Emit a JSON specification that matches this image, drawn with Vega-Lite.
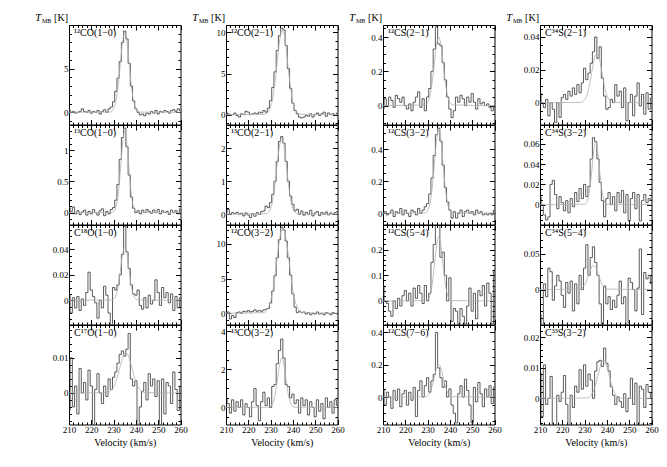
{
"$schema":"https://vega.github.io/schema/vega-lite/v6.json",
"padding":{"left":34,"top":12,"right":5,"bottom":5},
"background":"white",
"columns":4,
"spacing":{"row":0,"column":45},
"bounds":"flush",
"config":{
 "view":{"stroke":"#000","strokeWidth":1},
 "axis":{"domain":false,"grid":false,"ticks":true,"tickColor":"#000","tickSize":-5,"tickWidth":1,"labelFont":"Liberation Serif","labelFontSize":9,"labelColor":"#000","labelPadding":6,"labelFlush":false,"labelOverlap":false,"titleFont":"Liberation Serif","titleFontSize":10,"titleFontWeight":"normal","titleColor":"#000","titlePadding":3},
 "line":{"strokeWidth":0.8}
},
"datasets":{
"one":[{"k":1}],
"A1":[{"v":210,"t":0.3},{"v":211,"t":0.0},{"v":212,"t":0.1},{"v":213,"t":-0.1},{"v":214,"t":0.0},{"v":215,"t":0.1},{"v":216,"t":0.4},{"v":217,"t":0.1},{"v":218,"t":0.0},{"v":219,"t":0.2},{"v":220,"t":-0.1},{"v":221,"t":0.1},{"v":222,"t":0.0},{"v":223,"t":0.2},{"v":224,"t":-0.2},{"v":225,"t":0.1},{"v":226,"t":0.3},{"v":227,"t":0.0},{"v":228,"t":0.4},{"v":229,"t":0.6},{"v":230,"t":1.2},{"v":231,"t":2.4},{"v":232,"t":3.9},{"v":233,"t":5.8},{"v":234,"t":8.0},{"v":235,"t":9.3},{"v":236,"t":8.4},{"v":237,"t":5.6},{"v":238,"t":3.0},{"v":239,"t":1.3},{"v":240,"t":0.4},{"v":241,"t":0.0},{"v":242,"t":-0.3},{"v":243,"t":-0.2},{"v":244,"t":-0.4},{"v":245,"t":-0.1},{"v":246,"t":-0.2},{"v":247,"t":0.1},{"v":248,"t":-0.1},{"v":249,"t":0.2},{"v":250,"t":-0.2},{"v":251,"t":0.1},{"v":252,"t":0.0},{"v":253,"t":0.2},{"v":254,"t":0.1},{"v":255,"t":-0.1},{"v":256,"t":0.2},{"v":257,"t":0.3},{"v":258,"t":0.1},{"v":259,"t":0.4},{"v":260,"t":0.2}],
"A1f":[{"v":210,"t":0},{"v":228,"t":0.02},{"v":229,"t":0.1},{"v":230,"t":0.4},{"v":231,"t":1.23},{"v":232,"t":2.95},{"v":233,"t":5.52},{"v":234,"t":8.03},{"v":235,"t":9.1},{"v":236,"t":8.03},{"v":237,"t":5.52},{"v":238,"t":2.95},{"v":239,"t":1.23},{"v":240,"t":0.4},{"v":241,"t":0.1},{"v":242,"t":0.02},{"v":260,"t":0}],
"A2":[{"v":210,"t":0.08},{"v":211,"t":0.02},{"v":212,"t":0.09},{"v":213,"t":-0.02},{"v":214,"t":0.03},{"v":215,"t":-0.03},{"v":216,"t":0.01},{"v":217,"t":0.04},{"v":218,"t":-0.04},{"v":219,"t":0.02},{"v":220,"t":-0.02},{"v":221,"t":0.05},{"v":222,"t":0.0},{"v":223,"t":-0.04},{"v":224,"t":0.03},{"v":225,"t":0.06},{"v":226,"t":-0.05},{"v":227,"t":0.02},{"v":228,"t":-0.02},{"v":229,"t":0.05},{"v":230,"t":0.08},{"v":231,"t":0.2},{"v":232,"t":0.45},{"v":233,"t":0.85},{"v":234,"t":1.2},{"v":235,"t":1.35},{"v":236,"t":1.05},{"v":237,"t":0.6},{"v":238,"t":0.25},{"v":239,"t":0.07},{"v":240,"t":0.0},{"v":241,"t":0.03},{"v":242,"t":-0.02},{"v":243,"t":0.04},{"v":244,"t":0.0},{"v":245,"t":0.05},{"v":246,"t":0.02},{"v":247,"t":-0.01},{"v":248,"t":0.04},{"v":249,"t":0.0},{"v":250,"t":0.05},{"v":251,"t":-0.02},{"v":252,"t":0.03},{"v":253,"t":0.0},{"v":254,"t":0.02},{"v":255,"t":-0.03},{"v":256,"t":0.04},{"v":257,"t":0.0},{"v":258,"t":0.03},{"v":259,"t":-0.02},{"v":260,"t":0.06}],
"A2f":[{"v":210,"t":0},{"v":229,"t":0.003},{"v":230,"t":0.017},{"v":231,"t":0.08},{"v":232,"t":0.27},{"v":233,"t":0.65},{"v":234,"t":1.09},{"v":235,"t":1.3},{"v":236,"t":1.09},{"v":237,"t":0.65},{"v":238,"t":0.27},{"v":239,"t":0.08},{"v":240,"t":0.017},{"v":241,"t":0.003},{"v":260,"t":0}],
"A3":[{"v":210,"t":0.005},{"v":211,"t":-0.01},{"v":212,"t":0.002},{"v":213,"t":-0.006},{"v":214,"t":0.003},{"v":215,"t":-0.008},{"v":216,"t":0.001},{"v":217,"t":-0.004},{"v":218,"t":0.006},{"v":219,"t":0.022},{"v":220,"t":0.008},{"v":221,"t":0.003},{"v":222,"t":-0.002},{"v":223,"t":-0.014},{"v":224,"t":0.0},{"v":225,"t":-0.006},{"v":226,"t":0.011},{"v":227,"t":0.004},{"v":228,"t":-0.01},{"v":229,"t":-0.019},{"v":230,"t":0.01},{"v":231,"t":0.008},{"v":232,"t":0.012},{"v":233,"t":0.02},{"v":234,"t":0.036},{"v":235,"t":0.058},{"v":236,"t":0.038},{"v":237,"t":0.025},{"v":238,"t":0.012},{"v":239,"t":0.005},{"v":240,"t":0.004},{"v":241,"t":0.008},{"v":242,"t":-0.004},{"v":243,"t":-0.007},{"v":244,"t":0.002},{"v":245,"t":-0.006},{"v":246,"t":0.004},{"v":247,"t":-0.003},{"v":248,"t":0.0},{"v":249,"t":0.016},{"v":250,"t":0.006},{"v":251,"t":-0.004},{"v":252,"t":0.01},{"v":253,"t":0.002},{"v":254,"t":0.006},{"v":255,"t":-0.002},{"v":256,"t":0.005},{"v":257,"t":-0.008},{"v":258,"t":0.003},{"v":259,"t":-0.006},{"v":260,"t":0.002}],
"A3f":[{"v":210,"t":0},{"v":229,"t":0.0002},{"v":230,"t":0.0009},{"v":231,"t":0.0036},{"v":232,"t":0.0105},{"v":233,"t":0.0226},{"v":234,"t":0.036},{"v":235,"t":0.042},{"v":236,"t":0.036},{"v":237,"t":0.0226},{"v":238,"t":0.0105},{"v":239,"t":0.0036},{"v":240,"t":0.0009},{"v":241,"t":0.0002},{"v":260,"t":0}],
"A4":[{"v":210,"t":-0.005},{"v":211,"t":0.01},{"v":212,"t":-0.004},{"v":213,"t":0.002},{"v":214,"t":-0.006},{"v":215,"t":0.007},{"v":216,"t":0.0},{"v":217,"t":0.003},{"v":218,"t":-0.002},{"v":219,"t":0.0065},{"v":220,"t":0.002},{"v":221,"t":-0.009},{"v":222,"t":0.001},{"v":223,"t":0.0055},{"v":224,"t":0.0},{"v":225,"t":-0.003},{"v":226,"t":0.002},{"v":227,"t":-0.001},{"v":228,"t":0.004},{"v":229,"t":0.001},{"v":230,"t":0.0045},{"v":231,"t":0.006},{"v":232,"t":0.0085},{"v":233,"t":0.011},{"v":234,"t":0.012},{"v":235,"t":0.0105},{"v":236,"t":0.0125},{"v":237,"t":0.017},{"v":238,"t":0.004},{"v":239,"t":0.002},{"v":240,"t":0.0035},{"v":241,"t":-0.009},{"v":242,"t":-0.004},{"v":243,"t":0.0005},{"v":244,"t":0.003},{"v":245,"t":-0.002},{"v":246,"t":0.0055},{"v":247,"t":0.002},{"v":248,"t":0.004},{"v":249,"t":-0.001},{"v":250,"t":0.0035},{"v":251,"t":-0.009},{"v":252,"t":0.004},{"v":253,"t":-0.006},{"v":254,"t":0.003},{"v":255,"t":0.002},{"v":256,"t":-0.003},{"v":257,"t":0.006},{"v":258,"t":0.001},{"v":259,"t":-0.005},{"v":260,"t":0.002}],
"A4f":[{"v":210,"t":0},{"v":227,"t":0.0001},{"v":228,"t":0.0003},{"v":229,"t":0.0008},{"v":230,"t":0.0017},{"v":231,"t":0.0032},{"v":232,"t":0.0053},{"v":233,"t":0.0077},{"v":234,"t":0.01},{"v":235,"t":0.0113},{"v":236,"t":0.0113},{"v":237,"t":0.01},{"v":238,"t":0.0077},{"v":239,"t":0.0053},{"v":240,"t":0.0032},{"v":241,"t":0.0017},{"v":242,"t":0.0008},{"v":243,"t":0.0003},{"v":244,"t":0.0001},{"v":260,"t":0}],
"B1":[{"v":210,"t":0.3},{"v":211,"t":0.1},{"v":212,"t":-0.1},{"v":213,"t":0.0},{"v":214,"t":0.2},{"v":215,"t":-0.1},{"v":216,"t":-0.3},{"v":217,"t":0.1},{"v":218,"t":0.0},{"v":219,"t":0.4},{"v":220,"t":0.3},{"v":221,"t":0.0},{"v":222,"t":0.1},{"v":223,"t":0.2},{"v":224,"t":0.1},{"v":225,"t":0.3},{"v":226,"t":0.2},{"v":227,"t":0.5},{"v":228,"t":0.3},{"v":229,"t":0.8},{"v":230,"t":1.7},{"v":231,"t":3.3},{"v":232,"t":5.2},{"v":233,"t":7.8},{"v":234,"t":9.6},{"v":235,"t":10.5},{"v":236,"t":10.3},{"v":237,"t":8.4},{"v":238,"t":5.6},{"v":239,"t":3.2},{"v":240,"t":1.4},{"v":241,"t":0.5},{"v":242,"t":0.1},{"v":243,"t":-0.3},{"v":244,"t":-0.4},{"v":245,"t":-0.3},{"v":246,"t":-0.1},{"v":247,"t":-0.2},{"v":248,"t":0.1},{"v":249,"t":-0.3},{"v":250,"t":0.0},{"v":251,"t":0.2},{"v":252,"t":-0.1},{"v":253,"t":0.1},{"v":254,"t":0.3},{"v":255,"t":-0.2},{"v":256,"t":0.2},{"v":257,"t":0.0},{"v":258,"t":0.1},{"v":259,"t":-0.1},{"v":260,"t":0.2}],
"B1f":[{"v":210,"t":0},{"v":227,"t":0.03},{"v":228,"t":0.1},{"v":229,"t":0.33},{"v":230,"t":0.9},{"v":231,"t":2.07},{"v":232,"t":4.0},{"v":233,"t":6.5},{"v":234,"t":8.9},{"v":235,"t":10.2},{"v":236,"t":9.87},{"v":237,"t":8.0},{"v":238,"t":5.47},{"v":239,"t":3.14},{"v":240,"t":1.51},{"v":241,"t":0.61},{"v":242,"t":0.21},{"v":243,"t":0.06},{"v":260,"t":0}],
"B2":[{"v":210,"t":0.05},{"v":211,"t":0.15},{"v":212,"t":0.0},{"v":213,"t":0.05},{"v":214,"t":0.02},{"v":215,"t":0.06},{"v":216,"t":0.0},{"v":217,"t":0.03},{"v":218,"t":-0.05},{"v":219,"t":0.04},{"v":220,"t":-0.02},{"v":221,"t":-0.1},{"v":222,"t":0.02},{"v":223,"t":-0.06},{"v":224,"t":0.05},{"v":225,"t":0.0},{"v":226,"t":0.08},{"v":227,"t":0.1},{"v":228,"t":0.25},{"v":229,"t":0.2},{"v":230,"t":0.35},{"v":231,"t":0.6},{"v":232,"t":1.0},{"v":233,"t":1.6},{"v":234,"t":2.2},{"v":235,"t":2.35},{"v":236,"t":2.15},{"v":237,"t":1.6},{"v":238,"t":1.0},{"v":239,"t":0.55},{"v":240,"t":0.3},{"v":241,"t":0.1},{"v":242,"t":0.15},{"v":243,"t":0.0},{"v":244,"t":0.1},{"v":245,"t":-0.03},{"v":246,"t":0.06},{"v":247,"t":0.0},{"v":248,"t":0.12},{"v":249,"t":-0.05},{"v":250,"t":0.04},{"v":251,"t":0.08},{"v":252,"t":-0.04},{"v":253,"t":0.05},{"v":254,"t":0.0},{"v":255,"t":0.07},{"v":256,"t":-0.02},{"v":257,"t":0.04},{"v":258,"t":0.0},{"v":259,"t":0.05},{"v":260,"t":0.08}],
"B2f":[{"v":210,"t":0},{"v":228,"t":0.015},{"v":229,"t":0.056},{"v":230,"t":0.17},{"v":231,"t":0.44},{"v":232,"t":0.91},{"v":233,"t":1.52},{"v":234,"t":2.07},{"v":235,"t":2.3},{"v":236,"t":2.07},{"v":237,"t":1.52},{"v":238,"t":0.91},{"v":239,"t":0.44},{"v":240,"t":0.17},{"v":241,"t":0.056},{"v":242,"t":0.015},{"v":260,"t":0}],
"B3":[{"v":210,"t":0.0},{"v":211,"t":0.2},{"v":212,"t":-0.8},{"v":213,"t":-0.3},{"v":214,"t":-0.6},{"v":215,"t":0.1},{"v":216,"t":0.2},{"v":217,"t":0.0},{"v":218,"t":0.3},{"v":219,"t":0.2},{"v":220,"t":0.4},{"v":221,"t":0.2},{"v":222,"t":0.3},{"v":223,"t":0.5},{"v":224,"t":0.3},{"v":225,"t":0.4},{"v":226,"t":0.3},{"v":227,"t":0.5},{"v":228,"t":0.6},{"v":229,"t":0.7},{"v":230,"t":1.5},{"v":231,"t":3.2},{"v":232,"t":5.4},{"v":233,"t":8.0},{"v":234,"t":10.6},{"v":235,"t":12.4},{"v":236,"t":12.0},{"v":237,"t":10.4},{"v":238,"t":8.0},{"v":239,"t":5.5},{"v":240,"t":2.8},{"v":241,"t":0.9},{"v":242,"t":0.1},{"v":243,"t":0.3},{"v":244,"t":0.1},{"v":245,"t":0.2},{"v":246,"t":-0.1},{"v":247,"t":0.1},{"v":248,"t":-0.2},{"v":249,"t":0.0},{"v":250,"t":-0.1},{"v":251,"t":0.2},{"v":252,"t":-0.1},{"v":253,"t":0.0},{"v":254,"t":-0.2},{"v":255,"t":0.1},{"v":256,"t":0.0},{"v":257,"t":-0.2},{"v":258,"t":0.1},{"v":259,"t":0.0},{"v":260,"t":-0.1}],
"B3f":[{"v":210,"t":0},{"v":227,"t":0.12},{"v":228,"t":0.34},{"v":229,"t":0.82},{"v":230,"t":1.77},{"v":231,"t":3.36},{"v":232,"t":5.59},{"v":233,"t":8.19},{"v":234,"t":10.57},{"v":235,"t":12.0},{"v":236,"t":12.0},{"v":237,"t":10.57},{"v":238,"t":8.19},{"v":239,"t":5.59},{"v":240,"t":3.36},{"v":241,"t":1.77},{"v":242,"t":0.82},{"v":243,"t":0.34},{"v":244,"t":0.12},{"v":260,"t":0}],
"B4":[{"v":210,"t":0.5},{"v":211,"t":0.2},{"v":212,"t":-0.3},{"v":213,"t":0.4},{"v":214,"t":-0.2},{"v":215,"t":0.3},{"v":216,"t":0.0},{"v":217,"t":0.4},{"v":218,"t":-0.4},{"v":219,"t":0.2},{"v":220,"t":0.0},{"v":221,"t":-0.5},{"v":222,"t":0.3},{"v":223,"t":1.0},{"v":224,"t":0.1},{"v":225,"t":-0.7},{"v":226,"t":0.3},{"v":227,"t":0.8},{"v":228,"t":0.1},{"v":229,"t":0.5},{"v":230,"t":0.0},{"v":231,"t":1.1},{"v":232,"t":1.2},{"v":233,"t":2.3},{"v":234,"t":3.0},{"v":235,"t":3.6},{"v":236,"t":2.6},{"v":237,"t":1.2},{"v":238,"t":1.1},{"v":239,"t":0.5},{"v":240,"t":0.7},{"v":241,"t":0.2},{"v":242,"t":0.4},{"v":243,"t":-0.3},{"v":244,"t":0.5},{"v":245,"t":0.1},{"v":246,"t":0.4},{"v":247,"t":-0.4},{"v":248,"t":0.3},{"v":249,"t":0.0},{"v":250,"t":-0.5},{"v":251,"t":0.4},{"v":252,"t":-0.2},{"v":253,"t":0.2},{"v":254,"t":-0.6},{"v":255,"t":0.5},{"v":256,"t":0.0},{"v":257,"t":0.3},{"v":258,"t":-0.3},{"v":259,"t":0.4},{"v":260,"t":0.1}],
"B4f":[{"v":210,"t":0},{"v":229,"t":0.01},{"v":230,"t":0.055},{"v":231,"t":0.22},{"v":232,"t":0.65},{"v":233,"t":1.4},{"v":234,"t":2.23},{"v":235,"t":2.6},{"v":236,"t":2.23},{"v":237,"t":1.4},{"v":238,"t":0.65},{"v":239,"t":0.22},{"v":240,"t":0.055},{"v":241,"t":0.01},{"v":260,"t":0}],
"C1":[{"v":210,"t":-0.02},{"v":211,"t":0.04},{"v":212,"t":0.0},{"v":213,"t":0.05},{"v":214,"t":0.03},{"v":215,"t":-0.01},{"v":216,"t":0.06},{"v":217,"t":0.04},{"v":218,"t":0.02},{"v":219,"t":0.05},{"v":220,"t":0.0},{"v":221,"t":-0.02},{"v":222,"t":0.01},{"v":223,"t":-0.03},{"v":224,"t":0.02},{"v":225,"t":0.05},{"v":226,"t":0.08},{"v":227,"t":-0.01},{"v":228,"t":0.04},{"v":229,"t":-0.03},{"v":230,"t":0.05},{"v":231,"t":0.1},{"v":232,"t":0.2},{"v":233,"t":0.33},{"v":234,"t":0.46},{"v":235,"t":0.36},{"v":236,"t":0.35},{"v":237,"t":0.25},{"v":238,"t":0.15},{"v":239,"t":0.05},{"v":240,"t":-0.02},{"v":241,"t":-0.07},{"v":242,"t":-0.03},{"v":243,"t":0.05},{"v":244,"t":0.02},{"v":245,"t":0.06},{"v":246,"t":0.04},{"v":247,"t":0.0},{"v":248,"t":0.05},{"v":249,"t":0.02},{"v":250,"t":0.07},{"v":251,"t":0.02},{"v":252,"t":-0.02},{"v":253,"t":0.04},{"v":254,"t":0.01},{"v":255,"t":0.02},{"v":256,"t":0.0},{"v":257,"t":0.01},{"v":258,"t":-0.01},{"v":259,"t":-0.03},{"v":260,"t":0.0}],
"C1f":[{"v":210,"t":0},{"v":229,"t":0.0044},{"v":230,"t":0.018},{"v":231,"t":0.054},{"v":232,"t":0.13},{"v":233,"t":0.243},{"v":234,"t":0.353},{"v":235,"t":0.4},{"v":236,"t":0.353},{"v":237,"t":0.243},{"v":238,"t":0.13},{"v":239,"t":0.054},{"v":240,"t":0.018},{"v":241,"t":0.0044},{"v":260,"t":0}],
"C2":[{"v":210,"t":0.0},{"v":211,"t":0.01},{"v":212,"t":-0.01},{"v":213,"t":0.0},{"v":214,"t":0.02},{"v":215,"t":-0.02},{"v":216,"t":0.01},{"v":217,"t":0.0},{"v":218,"t":0.03},{"v":219,"t":-0.01},{"v":220,"t":0.02},{"v":221,"t":0.0},{"v":222,"t":-0.02},{"v":223,"t":0.02},{"v":224,"t":0.01},{"v":225,"t":-0.01},{"v":226,"t":0.03},{"v":227,"t":0.0},{"v":228,"t":0.02},{"v":229,"t":0.04},{"v":230,"t":0.06},{"v":231,"t":0.12},{"v":232,"t":0.22},{"v":233,"t":0.36},{"v":234,"t":0.49},{"v":235,"t":0.53},{"v":236,"t":0.45},{"v":237,"t":0.3},{"v":238,"t":0.16},{"v":239,"t":0.07},{"v":240,"t":0.02},{"v":241,"t":-0.03},{"v":242,"t":0.01},{"v":243,"t":-0.03},{"v":244,"t":0.0},{"v":245,"t":0.02},{"v":246,"t":-0.02},{"v":247,"t":0.01},{"v":248,"t":0.02},{"v":249,"t":0.0},{"v":250,"t":0.01},{"v":251,"t":-0.01},{"v":252,"t":0.02},{"v":253,"t":0.0},{"v":254,"t":0.01},{"v":255,"t":-0.01},{"v":256,"t":0.0},{"v":257,"t":-0.01},{"v":258,"t":0.0},{"v":259,"t":-0.01},{"v":260,"t":0.02}],
"C2f":[{"v":210,"t":0},{"v":229,"t":0.0036},{"v":230,"t":0.016},{"v":231,"t":0.057},{"v":232,"t":0.15},{"v":233,"t":0.299},{"v":234,"t":0.453},{"v":235,"t":0.52},{"v":236,"t":0.453},{"v":237,"t":0.299},{"v":238,"t":0.15},{"v":239,"t":0.057},{"v":240,"t":0.016},{"v":241,"t":0.0036},{"v":260,"t":0}],
"C3":[{"v":210,"t":0.06},{"v":211,"t":0.0},{"v":212,"t":-0.01},{"v":213,"t":-0.04},{"v":214,"t":-0.06},{"v":215,"t":0.0},{"v":216,"t":-0.03},{"v":217,"t":0.01},{"v":218,"t":-0.02},{"v":219,"t":0.02},{"v":220,"t":0.04},{"v":221,"t":0.0},{"v":222,"t":0.03},{"v":223,"t":-0.02},{"v":224,"t":0.05},{"v":225,"t":0.01},{"v":226,"t":0.06},{"v":227,"t":0.03},{"v":228,"t":-0.01},{"v":229,"t":0.06},{"v":230,"t":0.0},{"v":231,"t":0.03},{"v":232,"t":0.15},{"v":233,"t":0.22},{"v":234,"t":0.32},{"v":235,"t":0.3},{"v":236,"t":0.17},{"v":237,"t":0.19},{"v":238,"t":0.1},{"v":239,"t":0.0},{"v":240,"t":0.09},{"v":241,"t":-0.08},{"v":242,"t":-0.03},{"v":243,"t":-0.04},{"v":244,"t":-0.09},{"v":245,"t":-0.03},{"v":246,"t":-0.06},{"v":247,"t":-0.09},{"v":248,"t":-0.02},{"v":249,"t":0.05},{"v":250,"t":-0.04},{"v":251,"t":0.03},{"v":252,"t":-0.07},{"v":253,"t":0.04},{"v":254,"t":0.02},{"v":255,"t":0.06},{"v":256,"t":-0.02},{"v":257,"t":0.07},{"v":258,"t":0.03},{"v":259,"t":-0.09},{"v":260,"t":0.12}],
"C3f":[{"v":210,"t":0},{"v":229,"t":0.001},{"v":230,"t":0.005},{"v":231,"t":0.021},{"v":232,"t":0.062},{"v":233,"t":0.135},{"v":234,"t":0.214},{"v":235,"t":0.25},{"v":236,"t":0.214},{"v":237,"t":0.135},{"v":238,"t":0.062},{"v":239,"t":0.021},{"v":240,"t":0.005},{"v":241,"t":0.001},{"v":260,"t":0}],
"C4":[{"v":210,"t":0.05},{"v":211,"t":-0.05},{"v":212,"t":0.03},{"v":213,"t":0.0},{"v":214,"t":-0.07},{"v":215,"t":0.04},{"v":216,"t":-0.02},{"v":217,"t":0.05},{"v":218,"t":-0.06},{"v":219,"t":0.02},{"v":220,"t":0.04},{"v":221,"t":-0.05},{"v":222,"t":0.03},{"v":223,"t":-0.02},{"v":224,"t":0.06},{"v":225,"t":-0.12},{"v":226,"t":0.04},{"v":227,"t":0.1},{"v":228,"t":0.0},{"v":229,"t":0.07},{"v":230,"t":0.12},{"v":231,"t":0.03},{"v":232,"t":0.1},{"v":233,"t":0.14},{"v":234,"t":0.4},{"v":235,"t":0.18},{"v":236,"t":0.12},{"v":237,"t":0.06},{"v":238,"t":0.1},{"v":239,"t":0.0},{"v":240,"t":0.05},{"v":241,"t":-0.05},{"v":242,"t":-0.1},{"v":243,"t":-0.16},{"v":244,"t":0.02},{"v":245,"t":0.07},{"v":246,"t":0.0},{"v":247,"t":0.11},{"v":248,"t":0.04},{"v":249,"t":-0.05},{"v":250,"t":-0.16},{"v":251,"t":0.06},{"v":252,"t":-0.03},{"v":253,"t":0.09},{"v":254,"t":0.02},{"v":255,"t":-0.06},{"v":256,"t":0.05},{"v":257,"t":0.0},{"v":258,"t":0.07},{"v":259,"t":-0.04},{"v":260,"t":0.06}],
"C4f":[{"v":210,"t":0},{"v":229,"t":0.002},{"v":230,"t":0.009},{"v":231,"t":0.027},{"v":232,"t":0.065},{"v":233,"t":0.121},{"v":234,"t":0.177},{"v":235,"t":0.2},{"v":236,"t":0.177},{"v":237,"t":0.121},{"v":238,"t":0.065},{"v":239,"t":0.027},{"v":240,"t":0.009},{"v":241,"t":0.002},{"v":260,"t":0}],
"D1":[{"v":210,"t":0.006},{"v":211,"t":0.0},{"v":212,"t":-0.003},{"v":213,"t":0.002},{"v":214,"t":-0.008},{"v":215,"t":0.0},{"v":216,"t":-0.004},{"v":217,"t":-0.012},{"v":218,"t":0.0},{"v":219,"t":-0.009},{"v":220,"t":0.003},{"v":221,"t":0.005},{"v":222,"t":0.002},{"v":223,"t":0.007},{"v":224,"t":0.004},{"v":225,"t":0.009},{"v":226,"t":0.005},{"v":227,"t":0.011},{"v":228,"t":0.006},{"v":229,"t":0.012},{"v":230,"t":0.021},{"v":231,"t":0.014},{"v":232,"t":0.018},{"v":233,"t":0.024},{"v":234,"t":0.031},{"v":235,"t":0.04},{"v":236,"t":0.027},{"v":237,"t":0.034},{"v":238,"t":0.015},{"v":239,"t":0.004},{"v":240,"t":-0.004},{"v":241,"t":-0.003},{"v":242,"t":0.002},{"v":243,"t":0.0},{"v":244,"t":0.011},{"v":245,"t":0.004},{"v":246,"t":0.007},{"v":247,"t":-0.003},{"v":248,"t":0.009},{"v":249,"t":-0.011},{"v":250,"t":0.0},{"v":251,"t":0.005},{"v":252,"t":-0.008},{"v":253,"t":0.004},{"v":254,"t":0.012},{"v":255,"t":-0.002},{"v":256,"t":0.005},{"v":257,"t":-0.007},{"v":258,"t":0.006},{"v":259,"t":-0.004},{"v":260,"t":0.003}],
"D1f":[{"v":210,"t":0},{"v":228,"t":0.00015},{"v":229,"t":0.0005},{"v":230,"t":0.0017},{"v":231,"t":0.0044},{"v":232,"t":0.0094},{"v":233,"t":0.0166},{"v":234,"t":0.0243},{"v":235,"t":0.0293},{"v":236,"t":0.0293},{"v":237,"t":0.0243},{"v":238,"t":0.0166},{"v":239,"t":0.0094},{"v":240,"t":0.0044},{"v":241,"t":0.0017},{"v":242,"t":0.0005},{"v":243,"t":0.00015},{"v":260,"t":0}],
"D2":[{"v":210,"t":0.008},{"v":211,"t":0.0},{"v":212,"t":-0.01},{"v":213,"t":-0.015},{"v":214,"t":-0.012},{"v":215,"t":0.02},{"v":216,"t":0.024},{"v":217,"t":0.01},{"v":218,"t":-0.004},{"v":219,"t":0.008},{"v":220,"t":0.002},{"v":221,"t":-0.006},{"v":222,"t":0.004},{"v":223,"t":-0.008},{"v":224,"t":0.006},{"v":225,"t":-0.002},{"v":226,"t":0.012},{"v":227,"t":0.003},{"v":228,"t":0.016},{"v":229,"t":0.006},{"v":230,"t":0.02},{"v":231,"t":0.008},{"v":232,"t":0.018},{"v":233,"t":0.045},{"v":234,"t":0.066},{"v":235,"t":0.062},{"v":236,"t":0.045},{"v":237,"t":0.022},{"v":238,"t":0.004},{"v":239,"t":-0.012},{"v":240,"t":0.006},{"v":241,"t":0.012},{"v":242,"t":0.0},{"v":243,"t":0.008},{"v":244,"t":-0.006},{"v":245,"t":0.012},{"v":246,"t":0.002},{"v":247,"t":0.014},{"v":248,"t":-0.008},{"v":249,"t":0.01},{"v":250,"t":-0.016},{"v":251,"t":0.006},{"v":252,"t":0.012},{"v":253,"t":-0.004},{"v":254,"t":0.01},{"v":255,"t":-0.016},{"v":256,"t":0.004},{"v":257,"t":0.01},{"v":258,"t":0.002},{"v":259,"t":0.006},{"v":260,"t":0.004}],
"D2f":[{"v":210,"t":0},{"v":230,"t":0.0005},{"v":231,"t":0.0027},{"v":232,"t":0.0107},{"v":233,"t":0.0284},{"v":234,"t":0.051},{"v":235,"t":0.062},{"v":236,"t":0.051},{"v":237,"t":0.0284},{"v":238,"t":0.0107},{"v":239,"t":0.0027},{"v":240,"t":0.0005},{"v":260,"t":0}],
"D3":[{"v":210,"t":-0.035},{"v":211,"t":-0.049},{"v":212,"t":0.008},{"v":213,"t":-0.01},{"v":214,"t":0.03},{"v":215,"t":0.025},{"v":216,"t":-0.015},{"v":217,"t":0.005},{"v":218,"t":0.02},{"v":219,"t":0.012},{"v":220,"t":-0.008},{"v":221,"t":-0.025},{"v":222,"t":0.01},{"v":223,"t":-0.005},{"v":224,"t":0.012},{"v":225,"t":-0.03},{"v":226,"t":0.008},{"v":227,"t":-0.02},{"v":228,"t":0.02},{"v":229,"t":0.0},{"v":230,"t":0.03},{"v":231,"t":0.063},{"v":232,"t":0.02},{"v":233,"t":0.045},{"v":234,"t":0.06},{"v":235,"t":0.038},{"v":236,"t":0.02},{"v":237,"t":-0.02},{"v":238,"t":-0.049},{"v":239,"t":0.005},{"v":240,"t":-0.02},{"v":241,"t":-0.01},{"v":242,"t":-0.028},{"v":243,"t":-0.015},{"v":244,"t":-0.025},{"v":245,"t":-0.008},{"v":246,"t":0.012},{"v":247,"t":-0.02},{"v":248,"t":-0.01},{"v":249,"t":-0.049},{"v":250,"t":0.016},{"v":251,"t":0.01},{"v":252,"t":0.0},{"v":253,"t":-0.03},{"v":254,"t":0.002},{"v":255,"t":0.057},{"v":256,"t":-0.035},{"v":257,"t":0.024},{"v":258,"t":0.015},{"v":259,"t":0.02},{"v":260,"t":0.008}],
"D3f":[{"v":210,"t":0},{"v":228,"t":0.0008},{"v":229,"t":0.0026},{"v":230,"t":0.0065},{"v":231,"t":0.0134},{"v":232,"t":0.0225},{"v":233,"t":0.0307},{"v":234,"t":0.034},{"v":235,"t":0.0307},{"v":236,"t":0.0225},{"v":237,"t":0.0134},{"v":238,"t":0.0065},{"v":239,"t":0.0026},{"v":240,"t":0.0008},{"v":260,"t":0}],
"D4":[{"v":210,"t":0.0085},{"v":211,"t":-0.006},{"v":212,"t":0.011},{"v":213,"t":-0.002},{"v":214,"t":0.0},{"v":215,"t":0.0072},{"v":216,"t":-0.0086},{"v":217,"t":-0.0086},{"v":218,"t":0.001},{"v":219,"t":-0.001},{"v":220,"t":0.002},{"v":221,"t":0.0075},{"v":222,"t":-0.002},{"v":223,"t":-0.0086},{"v":224,"t":0.001},{"v":225,"t":-0.003},{"v":226,"t":0.004},{"v":227,"t":0.002},{"v":228,"t":0.0094},{"v":229,"t":0.003},{"v":230,"t":0.011},{"v":231,"t":0.004},{"v":232,"t":0.008},{"v":233,"t":0.006},{"v":234,"t":0.0},{"v":235,"t":0.009},{"v":236,"t":0.012},{"v":237,"t":0.0125},{"v":238,"t":0.0105},{"v":239,"t":0.0165},{"v":240,"t":0.0115},{"v":241,"t":0.009},{"v":242,"t":0.0038},{"v":243,"t":0.001},{"v":244,"t":-0.002},{"v":245,"t":0.0005},{"v":246,"t":-0.001},{"v":247,"t":-0.003},{"v":248,"t":0.0015},{"v":249,"t":-0.0044},{"v":250,"t":0.0},{"v":251,"t":0.0066},{"v":252,"t":-0.002},{"v":253,"t":0.005},{"v":254,"t":-0.0086},{"v":255,"t":0.004},{"v":256,"t":0.003},{"v":257,"t":-0.003},{"v":258,"t":0.0045},{"v":259,"t":0.002},{"v":260,"t":0.0}],
"D4f":[{"v":210,"t":0},{"v":231,"t":0.00014},{"v":232,"t":0.0004},{"v":233,"t":0.0011},{"v":234,"t":0.0025},{"v":235,"t":0.0047},{"v":236,"t":0.0076},{"v":237,"t":0.0104},{"v":238,"t":0.01225},{"v":239,"t":0.01225},{"v":240,"t":0.0104},{"v":241,"t":0.0076},{"v":242,"t":0.0047},{"v":243,"t":0.0025},{"v":244,"t":0.0011},{"v":245,"t":0.0004},{"v":246,"t":0.00014},{"v":260,"t":0}]
},
"concat":[
{"width":111.5,"height":99.5,"resolve":{"axis":{"x":"independent","y":"independent"}},"layer":[
 {"data":{"name":"A1"},"mark":{"type":"line","interpolate":"step","color":"#333","clip":true},"encoding":{"x":{"field":"v","type":"quantitative","scale":{"domain":[210,260],"nice":false,"zero":false},"axis":{"orient":"bottom","values":[210,220,230,240,250,260],"labels":false,"title":null}},"y":{"field":"t","type":"quantitative","scale":{"domain":[-1.4,10],"nice":false,"zero":false},"axis":{"orient":"left","values":[0,5],"format":"~f","title":null}}}},
 {"data":{"name":"A1f"},"mark":{"type":"line","interpolate":"monotone","color":"#b0b0b0","clip":true},"encoding":{"x":{"field":"v","type":"quantitative","axis":{"orient":"top","values":[210,220,230,240,250,260],"labels":false,"title":null}},"y":{"field":"t","type":"quantitative","axis":{"orient":"right","values":[0,5],"labels":false,"title":null}}}},
 {"data":{"name":"A1"},"mark":{"type":"line","opacity":0},"encoding":{"x":{"field":"v","type":"quantitative","axis":{"orient":"bottom","values":[212,214,216,218,222,224,226,228,232,234,236,238,242,244,246,248,252,254,256,258],"labels":false,"title":null,"tickSize":-2.5}},"y":{"field":"t","type":"quantitative","axis":{"orient":"left","values":[-1,1,2,3,4,6,7,8,9],"labels":false,"title":null,"tickSize":-2.5}}}},
 {"data":{"name":"A1"},"mark":{"type":"line","opacity":0},"encoding":{"x":{"field":"v","type":"quantitative","axis":{"orient":"top","values":[212,214,216,218,222,224,226,228,232,234,236,238,242,244,246,248,252,254,256,258],"labels":false,"title":null,"tickSize":-2.5}},"y":{"field":"t","type":"quantitative","axis":{"orient":"right","values":[-1,1,2,3,4,6,7,8,9],"labels":false,"title":null,"tickSize":-2.5}}}},
 {"data":{"name":"one"},"mark":{"type":"text","align":"left","baseline":"top","dx":5,"dy":3,"font":"Liberation Serif","fontSize":10},"encoding":{"x":{"datum":210,"axis":null},"y":{"datum":10,"axis":null},"text":{"value":"¹²CO(1−0)"}}},
 {"data":{"name":"one"},"mark":{"type":"text","align":"right","baseline":"alphabetic","dx":-28,"dy":-4,"font":"Liberation Serif","fontSize":10.5,"fontStyle":"italic"},"encoding":{"x":{"datum":210,"axis":null},"y":{"datum":10,"axis":null},"text":{"value":"T"}}},
 {"data":{"name":"one"},"mark":{"type":"text","align":"left","baseline":"alphabetic","dx":-27,"dy":-2,"font":"Liberation Serif","fontSize":6},"encoding":{"x":{"datum":210,"axis":null},"y":{"datum":10,"axis":null},"text":{"value":"MB"}}},
 {"data":{"name":"one"},"mark":{"type":"text","align":"right","baseline":"alphabetic","dx":-1,"dy":-4,"font":"Liberation Serif","fontSize":10},"encoding":{"x":{"datum":210,"axis":null},"y":{"datum":10,"axis":null},"text":{"value":"[K]"}}}
]},
{"width":111.5,"height":99.5,"resolve":{"axis":{"x":"independent","y":"independent"}},"layer":[
 {"data":{"name":"B1"},"mark":{"type":"line","interpolate":"step","color":"#333","clip":true},"encoding":{"x":{"field":"v","type":"quantitative","scale":{"domain":[210,260],"nice":false,"zero":false},"axis":{"orient":"bottom","values":[210,220,230,240,250,260],"labels":false,"title":null}},"y":{"field":"t","type":"quantitative","scale":{"domain":[-1.2,10.9],"nice":false,"zero":false},"axis":{"orient":"left","values":[0,5,10],"format":"~f","title":null}}}},
 {"data":{"name":"B1f"},"mark":{"type":"line","interpolate":"monotone","color":"#b0b0b0","clip":true},"encoding":{"x":{"field":"v","type":"quantitative","axis":{"orient":"top","values":[210,220,230,240,250,260],"labels":false,"title":null}},"y":{"field":"t","type":"quantitative","axis":{"orient":"right","values":[0,5,10],"labels":false,"title":null}}}},
 {"data":{"name":"B1"},"mark":{"type":"line","opacity":0},"encoding":{"x":{"field":"v","type":"quantitative","axis":{"orient":"bottom","values":[212,214,216,218,222,224,226,228,232,234,236,238,242,244,246,248,252,254,256,258],"labels":false,"title":null,"tickSize":-2.5}},"y":{"field":"t","type":"quantitative","axis":{"orient":"left","values":[-1,1,2,3,4,6,7,8,9],"labels":false,"title":null,"tickSize":-2.5}}}},
 {"data":{"name":"B1"},"mark":{"type":"line","opacity":0},"encoding":{"x":{"field":"v","type":"quantitative","axis":{"orient":"top","values":[212,214,216,218,222,224,226,228,232,234,236,238,242,244,246,248,252,254,256,258],"labels":false,"title":null,"tickSize":-2.5}},"y":{"field":"t","type":"quantitative","axis":{"orient":"right","values":[-1,1,2,3,4,6,7,8,9],"labels":false,"title":null,"tickSize":-2.5}}}},
 {"data":{"name":"one"},"mark":{"type":"text","align":"left","baseline":"top","dx":5,"dy":3,"font":"Liberation Serif","fontSize":10},"encoding":{"x":{"datum":210,"axis":null},"y":{"datum":10.9,"axis":null},"text":{"value":"¹²CO(2−1)"}}},
 {"data":{"name":"one"},"mark":{"type":"text","align":"right","baseline":"alphabetic","dx":-28,"dy":-4,"font":"Liberation Serif","fontSize":10.5,"fontStyle":"italic"},"encoding":{"x":{"datum":210,"axis":null},"y":{"datum":10.9,"axis":null},"text":{"value":"T"}}},
 {"data":{"name":"one"},"mark":{"type":"text","align":"left","baseline":"alphabetic","dx":-27,"dy":-2,"font":"Liberation Serif","fontSize":6},"encoding":{"x":{"datum":210,"axis":null},"y":{"datum":10.9,"axis":null},"text":{"value":"MB"}}},
 {"data":{"name":"one"},"mark":{"type":"text","align":"right","baseline":"alphabetic","dx":-1,"dy":-4,"font":"Liberation Serif","fontSize":10},"encoding":{"x":{"datum":210,"axis":null},"y":{"datum":10.9,"axis":null},"text":{"value":"[K]"}}}
]},
{"width":111.5,"height":99.5,"resolve":{"axis":{"x":"independent","y":"independent"}},"layer":[
 {"data":{"name":"C1"},"mark":{"type":"line","interpolate":"step","color":"#333","clip":true},"encoding":{"x":{"field":"v","type":"quantitative","scale":{"domain":[210,260],"nice":false,"zero":false},"axis":{"orient":"bottom","values":[210,220,230,240,250,260],"labels":false,"title":null}},"y":{"field":"t","type":"quantitative","scale":{"domain":[-0.11,0.47],"nice":false,"zero":false},"axis":{"orient":"left","values":[0,0.2,0.4],"format":"~f","title":null}}}},
 {"data":{"name":"C1f"},"mark":{"type":"line","interpolate":"monotone","color":"#b0b0b0","clip":true},"encoding":{"x":{"field":"v","type":"quantitative","axis":{"orient":"top","values":[210,220,230,240,250,260],"labels":false,"title":null}},"y":{"field":"t","type":"quantitative","axis":{"orient":"right","values":[0,0.2,0.4],"labels":false,"title":null}}}},
 {"data":{"name":"C1"},"mark":{"type":"line","opacity":0},"encoding":{"x":{"field":"v","type":"quantitative","axis":{"orient":"bottom","values":[212,214,216,218,222,224,226,228,232,234,236,238,242,244,246,248,252,254,256,258],"labels":false,"title":null,"tickSize":-2.5}},"y":{"field":"t","type":"quantitative","axis":{"orient":"left","values":[-0.1,-0.05,0.05,0.1,0.15,0.25,0.3,0.35,0.45],"labels":false,"title":null,"tickSize":-2.5}}}},
 {"data":{"name":"C1"},"mark":{"type":"line","opacity":0},"encoding":{"x":{"field":"v","type":"quantitative","axis":{"orient":"top","values":[212,214,216,218,222,224,226,228,232,234,236,238,242,244,246,248,252,254,256,258],"labels":false,"title":null,"tickSize":-2.5}},"y":{"field":"t","type":"quantitative","axis":{"orient":"right","values":[-0.1,-0.05,0.05,0.1,0.15,0.25,0.3,0.35,0.45],"labels":false,"title":null,"tickSize":-2.5}}}},
 {"data":{"name":"one"},"mark":{"type":"text","align":"left","baseline":"top","dx":5,"dy":3,"font":"Liberation Serif","fontSize":10},"encoding":{"x":{"datum":210,"axis":null},"y":{"datum":0.47,"axis":null},"text":{"value":"¹²CS(2−1)"}}},
 {"data":{"name":"one"},"mark":{"type":"text","align":"right","baseline":"alphabetic","dx":-28,"dy":-4,"font":"Liberation Serif","fontSize":10.5,"fontStyle":"italic"},"encoding":{"x":{"datum":210,"axis":null},"y":{"datum":0.47,"axis":null},"text":{"value":"T"}}},
 {"data":{"name":"one"},"mark":{"type":"text","align":"left","baseline":"alphabetic","dx":-27,"dy":-2,"font":"Liberation Serif","fontSize":6},"encoding":{"x":{"datum":210,"axis":null},"y":{"datum":0.47,"axis":null},"text":{"value":"MB"}}},
 {"data":{"name":"one"},"mark":{"type":"text","align":"right","baseline":"alphabetic","dx":-1,"dy":-4,"font":"Liberation Serif","fontSize":10},"encoding":{"x":{"datum":210,"axis":null},"y":{"datum":0.47,"axis":null},"text":{"value":"[K]"}}}
]},
{"width":111.5,"height":99.5,"resolve":{"axis":{"x":"independent","y":"independent"}},"layer":[
 {"data":{"name":"D1"},"mark":{"type":"line","interpolate":"step","color":"#333","clip":true},"encoding":{"x":{"field":"v","type":"quantitative","scale":{"domain":[210,260],"nice":false,"zero":false},"axis":{"orient":"bottom","values":[210,220,230,240,250,260],"labels":false,"title":null}},"y":{"field":"t","type":"quantitative","scale":{"domain":[-0.0133,0.0473],"nice":false,"zero":false},"axis":{"orient":"left","values":[0,0.02,0.04],"format":"~f","title":null}}}},
 {"data":{"name":"D1f"},"mark":{"type":"line","interpolate":"monotone","color":"#b0b0b0","clip":true},"encoding":{"x":{"field":"v","type":"quantitative","axis":{"orient":"top","values":[210,220,230,240,250,260],"labels":false,"title":null}},"y":{"field":"t","type":"quantitative","axis":{"orient":"right","values":[0,0.02,0.04],"labels":false,"title":null}}}},
 {"data":{"name":"D1"},"mark":{"type":"line","opacity":0},"encoding":{"x":{"field":"v","type":"quantitative","axis":{"orient":"bottom","values":[212,214,216,218,222,224,226,228,232,234,236,238,242,244,246,248,252,254,256,258],"labels":false,"title":null,"tickSize":-2.5}},"y":{"field":"t","type":"quantitative","axis":{"orient":"left","values":[-0.01,-0.005,0.005,0.01,0.015,0.025,0.03,0.035,0.045],"labels":false,"title":null,"tickSize":-2.5}}}},
 {"data":{"name":"D1"},"mark":{"type":"line","opacity":0},"encoding":{"x":{"field":"v","type":"quantitative","axis":{"orient":"top","values":[212,214,216,218,222,224,226,228,232,234,236,238,242,244,246,248,252,254,256,258],"labels":false,"title":null,"tickSize":-2.5}},"y":{"field":"t","type":"quantitative","axis":{"orient":"right","values":[-0.01,-0.005,0.005,0.01,0.015,0.025,0.03,0.035,0.045],"labels":false,"title":null,"tickSize":-2.5}}}},
 {"data":{"name":"one"},"mark":{"type":"text","align":"left","baseline":"top","dx":5,"dy":3,"font":"Liberation Serif","fontSize":10},"encoding":{"x":{"datum":210,"axis":null},"y":{"datum":0.0473,"axis":null},"text":{"value":"C³⁴S(2−1)"}}},
 {"data":{"name":"one"},"mark":{"type":"text","align":"right","baseline":"alphabetic","dx":-28,"dy":-4,"font":"Liberation Serif","fontSize":10.5,"fontStyle":"italic"},"encoding":{"x":{"datum":210,"axis":null},"y":{"datum":0.0473,"axis":null},"text":{"value":"T"}}},
 {"data":{"name":"one"},"mark":{"type":"text","align":"left","baseline":"alphabetic","dx":-27,"dy":-2,"font":"Liberation Serif","fontSize":6},"encoding":{"x":{"datum":210,"axis":null},"y":{"datum":0.0473,"axis":null},"text":{"value":"MB"}}},
 {"data":{"name":"one"},"mark":{"type":"text","align":"right","baseline":"alphabetic","dx":-1,"dy":-4,"font":"Liberation Serif","fontSize":10},"encoding":{"x":{"datum":210,"axis":null},"y":{"datum":0.0473,"axis":null},"text":{"value":"[K]"}}}
]},
{"width":111.5,"height":99.5,"resolve":{"axis":{"x":"independent","y":"independent"}},"layer":[
 {"data":{"name":"A2"},"mark":{"type":"line","interpolate":"step","color":"#333","clip":true},"encoding":{"x":{"field":"v","type":"quantitative","scale":{"domain":[210,260],"nice":false,"zero":false},"axis":{"orient":"bottom","values":[210,220,230,240,250,260],"labels":false,"title":null}},"y":{"field":"t","type":"quantitative","scale":{"domain":[-0.19,1.4],"nice":false,"zero":false},"axis":{"orient":"left","values":[0,0.5,1],"format":"~f","title":null}}}},
 {"data":{"name":"A2f"},"mark":{"type":"line","interpolate":"monotone","color":"#b0b0b0","clip":true},"encoding":{"x":{"field":"v","type":"quantitative","axis":{"orient":"top","values":[210,220,230,240,250,260],"labels":false,"title":null}},"y":{"field":"t","type":"quantitative","axis":{"orient":"right","values":[0,0.5,1],"labels":false,"title":null}}}},
 {"data":{"name":"A2"},"mark":{"type":"line","opacity":0},"encoding":{"x":{"field":"v","type":"quantitative","axis":{"orient":"bottom","values":[212,214,216,218,222,224,226,228,232,234,236,238,242,244,246,248,252,254,256,258],"labels":false,"title":null,"tickSize":-2.5}},"y":{"field":"t","type":"quantitative","axis":{"orient":"left","values":[-0.1,0.1,0.2,0.3,0.4,0.6,0.7,0.8,0.9,1.1,1.2,1.3],"labels":false,"title":null,"tickSize":-2.5}}}},
 {"data":{"name":"A2"},"mark":{"type":"line","opacity":0},"encoding":{"x":{"field":"v","type":"quantitative","axis":{"orient":"top","values":[212,214,216,218,222,224,226,228,232,234,236,238,242,244,246,248,252,254,256,258],"labels":false,"title":null,"tickSize":-2.5}},"y":{"field":"t","type":"quantitative","axis":{"orient":"right","values":[-0.1,0.1,0.2,0.3,0.4,0.6,0.7,0.8,0.9,1.1,1.2,1.3],"labels":false,"title":null,"tickSize":-2.5}}}},
 {"data":{"name":"one"},"mark":{"type":"text","align":"left","baseline":"top","dx":5,"dy":3,"font":"Liberation Serif","fontSize":10},"encoding":{"x":{"datum":210,"axis":null},"y":{"datum":1.4,"axis":null},"text":{"value":"¹³CO(1−0)"}}}
]},
{"width":111.5,"height":99.5,"resolve":{"axis":{"x":"independent","y":"independent"}},"layer":[
 {"data":{"name":"B2"},"mark":{"type":"line","interpolate":"step","color":"#333","clip":true},"encoding":{"x":{"field":"v","type":"quantitative","scale":{"domain":[210,260],"nice":false,"zero":false},"axis":{"orient":"bottom","values":[210,220,230,240,250,260],"labels":false,"title":null}},"y":{"field":"t","type":"quantitative","scale":{"domain":[-0.31,2.7],"nice":false,"zero":false},"axis":{"orient":"left","values":[0,1,2],"format":"~f","title":null}}}},
 {"data":{"name":"B2f"},"mark":{"type":"line","interpolate":"monotone","color":"#b0b0b0","clip":true},"encoding":{"x":{"field":"v","type":"quantitative","axis":{"orient":"top","values":[210,220,230,240,250,260],"labels":false,"title":null}},"y":{"field":"t","type":"quantitative","axis":{"orient":"right","values":[0,1,2],"labels":false,"title":null}}}},
 {"data":{"name":"B2"},"mark":{"type":"line","opacity":0},"encoding":{"x":{"field":"v","type":"quantitative","axis":{"orient":"bottom","values":[212,214,216,218,222,224,226,228,232,234,236,238,242,244,246,248,252,254,256,258],"labels":false,"title":null,"tickSize":-2.5}},"y":{"field":"t","type":"quantitative","axis":{"orient":"left","values":[-0.2,0.2,0.4,0.6,0.8,1.2,1.4,1.6,1.8,2.2,2.4,2.6],"labels":false,"title":null,"tickSize":-2.5}}}},
 {"data":{"name":"B2"},"mark":{"type":"line","opacity":0},"encoding":{"x":{"field":"v","type":"quantitative","axis":{"orient":"top","values":[212,214,216,218,222,224,226,228,232,234,236,238,242,244,246,248,252,254,256,258],"labels":false,"title":null,"tickSize":-2.5}},"y":{"field":"t","type":"quantitative","axis":{"orient":"right","values":[-0.2,0.2,0.4,0.6,0.8,1.2,1.4,1.6,1.8,2.2,2.4,2.6],"labels":false,"title":null,"tickSize":-2.5}}}},
 {"data":{"name":"one"},"mark":{"type":"text","align":"left","baseline":"top","dx":5,"dy":3,"font":"Liberation Serif","fontSize":10},"encoding":{"x":{"datum":210,"axis":null},"y":{"datum":2.7,"axis":null},"text":{"value":"¹³CO(2−1)"}}}
]},
{"width":111.5,"height":99.5,"resolve":{"axis":{"x":"independent","y":"independent"}},"layer":[
 {"data":{"name":"C2"},"mark":{"type":"line","interpolate":"step","color":"#333","clip":true},"encoding":{"x":{"field":"v","type":"quantitative","scale":{"domain":[210,260],"nice":false,"zero":false},"axis":{"orient":"bottom","values":[210,220,230,240,250,260],"labels":false,"title":null}},"y":{"field":"t","type":"quantitative","scale":{"domain":[-0.07,0.55],"nice":false,"zero":false},"axis":{"orient":"left","values":[0,0.2,0.4],"format":"~f","title":null}}}},
 {"data":{"name":"C2f"},"mark":{"type":"line","interpolate":"monotone","color":"#b0b0b0","clip":true},"encoding":{"x":{"field":"v","type":"quantitative","axis":{"orient":"top","values":[210,220,230,240,250,260],"labels":false,"title":null}},"y":{"field":"t","type":"quantitative","axis":{"orient":"right","values":[0,0.2,0.4],"labels":false,"title":null}}}},
 {"data":{"name":"C2"},"mark":{"type":"line","opacity":0},"encoding":{"x":{"field":"v","type":"quantitative","axis":{"orient":"bottom","values":[212,214,216,218,222,224,226,228,232,234,236,238,242,244,246,248,252,254,256,258],"labels":false,"title":null,"tickSize":-2.5}},"y":{"field":"t","type":"quantitative","axis":{"orient":"left","values":[-0.05,0.05,0.1,0.15,0.25,0.3,0.35,0.45,0.5],"labels":false,"title":null,"tickSize":-2.5}}}},
 {"data":{"name":"C2"},"mark":{"type":"line","opacity":0},"encoding":{"x":{"field":"v","type":"quantitative","axis":{"orient":"top","values":[212,214,216,218,222,224,226,228,232,234,236,238,242,244,246,248,252,254,256,258],"labels":false,"title":null,"tickSize":-2.5}},"y":{"field":"t","type":"quantitative","axis":{"orient":"right","values":[-0.05,0.05,0.1,0.15,0.25,0.3,0.35,0.45,0.5],"labels":false,"title":null,"tickSize":-2.5}}}},
 {"data":{"name":"one"},"mark":{"type":"text","align":"left","baseline":"top","dx":5,"dy":3,"font":"Liberation Serif","fontSize":10},"encoding":{"x":{"datum":210,"axis":null},"y":{"datum":0.55,"axis":null},"text":{"value":"¹²CS(3−2)"}}}
]},
{"width":111.5,"height":99.5,"resolve":{"axis":{"x":"independent","y":"independent"}},"layer":[
 {"data":{"name":"D2"},"mark":{"type":"line","interpolate":"step","color":"#333","clip":true},"encoding":{"x":{"field":"v","type":"quantitative","scale":{"domain":[210,260],"nice":false,"zero":false},"axis":{"orient":"bottom","values":[210,220,230,240,250,260],"labels":false,"title":null}},"y":{"field":"t","type":"quantitative","scale":{"domain":[-0.0195,0.0785],"nice":false,"zero":false},"axis":{"orient":"left","values":[0,0.02,0.04,0.06],"format":"~f","title":null}}}},
 {"data":{"name":"D2f"},"mark":{"type":"line","interpolate":"monotone","color":"#b0b0b0","clip":true},"encoding":{"x":{"field":"v","type":"quantitative","axis":{"orient":"top","values":[210,220,230,240,250,260],"labels":false,"title":null}},"y":{"field":"t","type":"quantitative","axis":{"orient":"right","values":[0,0.02,0.04,0.06],"labels":false,"title":null}}}},
 {"data":{"name":"D2"},"mark":{"type":"line","opacity":0},"encoding":{"x":{"field":"v","type":"quantitative","axis":{"orient":"bottom","values":[212,214,216,218,222,224,226,228,232,234,236,238,242,244,246,248,252,254,256,258],"labels":false,"title":null,"tickSize":-2.5}},"y":{"field":"t","type":"quantitative","axis":{"orient":"left","values":[-0.015,-0.01,-0.005,0.005,0.01,0.015,0.025,0.03,0.035,0.045,0.05,0.055,0.065,0.07,0.075],"labels":false,"title":null,"tickSize":-2.5}}}},
 {"data":{"name":"D2"},"mark":{"type":"line","opacity":0},"encoding":{"x":{"field":"v","type":"quantitative","axis":{"orient":"top","values":[212,214,216,218,222,224,226,228,232,234,236,238,242,244,246,248,252,254,256,258],"labels":false,"title":null,"tickSize":-2.5}},"y":{"field":"t","type":"quantitative","axis":{"orient":"right","values":[-0.015,-0.01,-0.005,0.005,0.01,0.015,0.025,0.03,0.035,0.045,0.05,0.055,0.065,0.07,0.075],"labels":false,"title":null,"tickSize":-2.5}}}},
 {"data":{"name":"one"},"mark":{"type":"text","align":"left","baseline":"top","dx":5,"dy":3,"font":"Liberation Serif","fontSize":10},"encoding":{"x":{"datum":210,"axis":null},"y":{"datum":0.0785,"axis":null},"text":{"value":"C³⁴S(3−2)"}}}
]},
{"width":111.5,"height":99.5,"resolve":{"axis":{"x":"independent","y":"independent"}},"layer":[
 {"data":{"name":"A3"},"mark":{"type":"line","interpolate":"step","color":"#333","clip":true},"encoding":{"x":{"field":"v","type":"quantitative","scale":{"domain":[210,260],"nice":false,"zero":false},"axis":{"orient":"bottom","values":[210,220,230,240,250,260],"labels":false,"title":null}},"y":{"field":"t","type":"quantitative","scale":{"domain":[-0.019,0.059],"nice":false,"zero":false},"axis":{"orient":"left","values":[0,0.02,0.04],"format":"~f","title":null}}}},
 {"data":{"name":"A3f"},"mark":{"type":"line","interpolate":"monotone","color":"#b0b0b0","clip":true},"encoding":{"x":{"field":"v","type":"quantitative","axis":{"orient":"top","values":[210,220,230,240,250,260],"labels":false,"title":null}},"y":{"field":"t","type":"quantitative","axis":{"orient":"right","values":[0,0.02,0.04],"labels":false,"title":null}}}},
 {"data":{"name":"A3"},"mark":{"type":"line","opacity":0},"encoding":{"x":{"field":"v","type":"quantitative","axis":{"orient":"bottom","values":[212,214,216,218,222,224,226,228,232,234,236,238,242,244,246,248,252,254,256,258],"labels":false,"title":null,"tickSize":-2.5}},"y":{"field":"t","type":"quantitative","axis":{"orient":"left","values":[-0.015,-0.01,-0.005,0.005,0.01,0.015,0.025,0.03,0.035,0.045,0.05,0.055],"labels":false,"title":null,"tickSize":-2.5}}}},
 {"data":{"name":"A3"},"mark":{"type":"line","opacity":0},"encoding":{"x":{"field":"v","type":"quantitative","axis":{"orient":"top","values":[212,214,216,218,222,224,226,228,232,234,236,238,242,244,246,248,252,254,256,258],"labels":false,"title":null,"tickSize":-2.5}},"y":{"field":"t","type":"quantitative","axis":{"orient":"right","values":[-0.015,-0.01,-0.005,0.005,0.01,0.015,0.025,0.03,0.035,0.045,0.05,0.055],"labels":false,"title":null,"tickSize":-2.5}}}},
 {"data":{"name":"one"},"mark":{"type":"text","align":"left","baseline":"top","dx":5,"dy":3,"font":"Liberation Serif","fontSize":10},"encoding":{"x":{"datum":210,"axis":null},"y":{"datum":0.059,"axis":null},"text":{"value":"C¹⁸O(1−0)"}}}
]},
{"width":111.5,"height":99.5,"resolve":{"axis":{"x":"independent","y":"independent"}},"layer":[
 {"data":{"name":"B3"},"mark":{"type":"line","interpolate":"step","color":"#333","clip":true},"encoding":{"x":{"field":"v","type":"quantitative","scale":{"domain":[210,260],"nice":false,"zero":false},"axis":{"orient":"bottom","values":[210,220,230,240,250,260],"labels":false,"title":null}},"y":{"field":"t","type":"quantitative","scale":{"domain":[-1.6,12.7],"nice":false,"zero":false},"axis":{"orient":"left","values":[0,5,10],"format":"~f","title":null}}}},
 {"data":{"name":"B3f"},"mark":{"type":"line","interpolate":"monotone","color":"#b0b0b0","clip":true},"encoding":{"x":{"field":"v","type":"quantitative","axis":{"orient":"top","values":[210,220,230,240,250,260],"labels":false,"title":null}},"y":{"field":"t","type":"quantitative","axis":{"orient":"right","values":[0,5,10],"labels":false,"title":null}}}},
 {"data":{"name":"B3"},"mark":{"type":"line","opacity":0},"encoding":{"x":{"field":"v","type":"quantitative","axis":{"orient":"bottom","values":[212,214,216,218,222,224,226,228,232,234,236,238,242,244,246,248,252,254,256,258],"labels":false,"title":null,"tickSize":-2.5}},"y":{"field":"t","type":"quantitative","axis":{"orient":"left","values":[-1,1,2,3,4,6,7,8,9,11,12],"labels":false,"title":null,"tickSize":-2.5}}}},
 {"data":{"name":"B3"},"mark":{"type":"line","opacity":0},"encoding":{"x":{"field":"v","type":"quantitative","axis":{"orient":"top","values":[212,214,216,218,222,224,226,228,232,234,236,238,242,244,246,248,252,254,256,258],"labels":false,"title":null,"tickSize":-2.5}},"y":{"field":"t","type":"quantitative","axis":{"orient":"right","values":[-1,1,2,3,4,6,7,8,9,11,12],"labels":false,"title":null,"tickSize":-2.5}}}},
 {"data":{"name":"one"},"mark":{"type":"text","align":"left","baseline":"top","dx":5,"dy":3,"font":"Liberation Serif","fontSize":10},"encoding":{"x":{"datum":210,"axis":null},"y":{"datum":12.7,"axis":null},"text":{"value":"¹²CO(3−2)"}}}
]},
{"width":111.5,"height":99.5,"resolve":{"axis":{"x":"independent","y":"independent"}},"layer":[
 {"data":{"name":"C3"},"mark":{"type":"line","interpolate":"step","color":"#333","clip":true},"encoding":{"x":{"field":"v","type":"quantitative","scale":{"domain":[210,260],"nice":false,"zero":false},"axis":{"orient":"bottom","values":[210,220,230,240,250,260],"labels":false,"title":null}},"y":{"field":"t","type":"quantitative","scale":{"domain":[-0.092,0.296],"nice":false,"zero":false},"axis":{"orient":"left","values":[0,0.1,0.2],"format":"~f","title":null}}}},
 {"data":{"name":"C3f"},"mark":{"type":"line","interpolate":"monotone","color":"#b0b0b0","clip":true},"encoding":{"x":{"field":"v","type":"quantitative","axis":{"orient":"top","values":[210,220,230,240,250,260],"labels":false,"title":null}},"y":{"field":"t","type":"quantitative","axis":{"orient":"right","values":[0,0.1,0.2],"labels":false,"title":null}}}},
 {"data":{"name":"C3"},"mark":{"type":"line","opacity":0},"encoding":{"x":{"field":"v","type":"quantitative","axis":{"orient":"bottom","values":[212,214,216,218,222,224,226,228,232,234,236,238,242,244,246,248,252,254,256,258],"labels":false,"title":null,"tickSize":-2.5}},"y":{"field":"t","type":"quantitative","axis":{"orient":"left","values":[-0.08,-0.06,-0.04,-0.02,0.02,0.04,0.06,0.08,0.12,0.14,0.16,0.18,0.22,0.24,0.26,0.28],"labels":false,"title":null,"tickSize":-2.5}}}},
 {"data":{"name":"C3"},"mark":{"type":"line","opacity":0},"encoding":{"x":{"field":"v","type":"quantitative","axis":{"orient":"top","values":[212,214,216,218,222,224,226,228,232,234,236,238,242,244,246,248,252,254,256,258],"labels":false,"title":null,"tickSize":-2.5}},"y":{"field":"t","type":"quantitative","axis":{"orient":"right","values":[-0.08,-0.06,-0.04,-0.02,0.02,0.04,0.06,0.08,0.12,0.14,0.16,0.18,0.22,0.24,0.26,0.28],"labels":false,"title":null,"tickSize":-2.5}}}},
 {"data":{"name":"one"},"mark":{"type":"text","align":"left","baseline":"top","dx":5,"dy":3,"font":"Liberation Serif","fontSize":10},"encoding":{"x":{"datum":210,"axis":null},"y":{"datum":0.296,"axis":null},"text":{"value":"¹²CS(5−4)"}}}
]},
{"width":111.5,"height":99.5,"resolve":{"axis":{"x":"independent","y":"independent"}},"layer":[
 {"data":{"name":"D3"},"mark":{"type":"line","interpolate":"step","color":"#333","clip":true},"encoding":{"x":{"field":"v","type":"quantitative","scale":{"domain":[210,260],"nice":false,"zero":false},"axis":{"orient":"bottom","values":[210,220,230,240,250,260],"labels":false,"title":null}},"y":{"field":"t","type":"quantitative","scale":{"domain":[-0.049,0.0906],"nice":false,"zero":false},"axis":{"orient":"left","values":[0,0.05],"format":"~f","title":null}}}},
 {"data":{"name":"D3f"},"mark":{"type":"line","interpolate":"monotone","color":"#b0b0b0","clip":true},"encoding":{"x":{"field":"v","type":"quantitative","axis":{"orient":"top","values":[210,220,230,240,250,260],"labels":false,"title":null}},"y":{"field":"t","type":"quantitative","axis":{"orient":"right","values":[0,0.05],"labels":false,"title":null}}}},
 {"data":{"name":"D3"},"mark":{"type":"line","opacity":0},"encoding":{"x":{"field":"v","type":"quantitative","axis":{"orient":"bottom","values":[212,214,216,218,222,224,226,228,232,234,236,238,242,244,246,248,252,254,256,258],"labels":false,"title":null,"tickSize":-2.5}},"y":{"field":"t","type":"quantitative","axis":{"orient":"left","values":[-0.04,-0.03,-0.02,-0.01,0.01,0.02,0.03,0.04,0.06,0.07,0.08,0.09],"labels":false,"title":null,"tickSize":-2.5}}}},
 {"data":{"name":"D3"},"mark":{"type":"line","opacity":0},"encoding":{"x":{"field":"v","type":"quantitative","axis":{"orient":"top","values":[212,214,216,218,222,224,226,228,232,234,236,238,242,244,246,248,252,254,256,258],"labels":false,"title":null,"tickSize":-2.5}},"y":{"field":"t","type":"quantitative","axis":{"orient":"right","values":[-0.04,-0.03,-0.02,-0.01,0.01,0.02,0.03,0.04,0.06,0.07,0.08,0.09],"labels":false,"title":null,"tickSize":-2.5}}}},
 {"data":{"name":"one"},"mark":{"type":"text","align":"left","baseline":"top","dx":5,"dy":3,"font":"Liberation Serif","fontSize":10},"encoding":{"x":{"datum":210,"axis":null},"y":{"datum":0.0906,"axis":null},"text":{"value":"C³⁴S(5−4)"}}}
]},
{"width":111.5,"height":99.5,"resolve":{"axis":{"x":"independent","y":"independent"}},"layer":[
 {"data":{"name":"A4"},"mark":{"type":"line","interpolate":"step","color":"#333","clip":true},"encoding":{"x":{"field":"v","type":"quantitative","scale":{"domain":[210,260],"nice":false,"zero":false},"axis":{"orient":"bottom","values":[210,220,230,240,250,260],"format":"~f","title":"Velocity (km/s)"}},"y":{"field":"t","type":"quantitative","scale":{"domain":[-0.009,0.0194],"nice":false,"zero":false},"axis":{"orient":"left","values":[0,0.01],"format":"~f","title":null}}}},
 {"data":{"name":"A4f"},"mark":{"type":"line","interpolate":"monotone","color":"#b0b0b0","clip":true},"encoding":{"x":{"field":"v","type":"quantitative","axis":{"orient":"top","values":[210,220,230,240,250,260],"labels":false,"title":null}},"y":{"field":"t","type":"quantitative","axis":{"orient":"right","values":[0,0.01],"labels":false,"title":null}}}},
 {"data":{"name":"A4"},"mark":{"type":"line","opacity":0},"encoding":{"x":{"field":"v","type":"quantitative","axis":{"orient":"bottom","values":[212,214,216,218,222,224,226,228,232,234,236,238,242,244,246,248,252,254,256,258],"labels":false,"title":null,"tickSize":-2.5}},"y":{"field":"t","type":"quantitative","axis":{"orient":"left","values":[-0.008,-0.006,-0.004,-0.002,0.002,0.004,0.006,0.008,0.012,0.014,0.016,0.018],"labels":false,"title":null,"tickSize":-2.5}}}},
 {"data":{"name":"A4"},"mark":{"type":"line","opacity":0},"encoding":{"x":{"field":"v","type":"quantitative","axis":{"orient":"top","values":[212,214,216,218,222,224,226,228,232,234,236,238,242,244,246,248,252,254,256,258],"labels":false,"title":null,"tickSize":-2.5}},"y":{"field":"t","type":"quantitative","axis":{"orient":"right","values":[-0.008,-0.006,-0.004,-0.002,0.002,0.004,0.006,0.008,0.012,0.014,0.016,0.018],"labels":false,"title":null,"tickSize":-2.5}}}},
 {"data":{"name":"one"},"mark":{"type":"text","align":"left","baseline":"top","dx":5,"dy":3,"font":"Liberation Serif","fontSize":10},"encoding":{"x":{"datum":210,"axis":null},"y":{"datum":0.0194,"axis":null},"text":{"value":"C¹⁷O(1−0)"}}}
]},
{"width":111.5,"height":99.5,"resolve":{"axis":{"x":"independent","y":"independent"}},"layer":[
 {"data":{"name":"B4"},"mark":{"type":"line","interpolate":"step","color":"#333","clip":true},"encoding":{"x":{"field":"v","type":"quantitative","scale":{"domain":[210,260],"nice":false,"zero":false},"axis":{"orient":"bottom","values":[210,220,230,240,250,260],"format":"~f","title":"Velocity (km/s)"}},"y":{"field":"t","type":"quantitative","scale":{"domain":[-0.9,4.34],"nice":false,"zero":false},"axis":{"orient":"left","values":[0,2,4],"format":"~f","title":null}}}},
 {"data":{"name":"B4f"},"mark":{"type":"line","interpolate":"monotone","color":"#b0b0b0","clip":true},"encoding":{"x":{"field":"v","type":"quantitative","axis":{"orient":"top","values":[210,220,230,240,250,260],"labels":false,"title":null}},"y":{"field":"t","type":"quantitative","axis":{"orient":"right","values":[0,2,4],"labels":false,"title":null}}}},
 {"data":{"name":"B4"},"mark":{"type":"line","opacity":0},"encoding":{"x":{"field":"v","type":"quantitative","axis":{"orient":"bottom","values":[212,214,216,218,222,224,226,228,232,234,236,238,242,244,246,248,252,254,256,258],"labels":false,"title":null,"tickSize":-2.5}},"y":{"field":"t","type":"quantitative","axis":{"orient":"left","values":[-0.5,0.5,1,1.5,2.5,3,3.5],"labels":false,"title":null,"tickSize":-2.5}}}},
 {"data":{"name":"B4"},"mark":{"type":"line","opacity":0},"encoding":{"x":{"field":"v","type":"quantitative","axis":{"orient":"top","values":[212,214,216,218,222,224,226,228,232,234,236,238,242,244,246,248,252,254,256,258],"labels":false,"title":null,"tickSize":-2.5}},"y":{"field":"t","type":"quantitative","axis":{"orient":"right","values":[-0.5,0.5,1,1.5,2.5,3,3.5],"labels":false,"title":null,"tickSize":-2.5}}}},
 {"data":{"name":"one"},"mark":{"type":"text","align":"left","baseline":"top","dx":5,"dy":3,"font":"Liberation Serif","fontSize":10},"encoding":{"x":{"datum":210,"axis":null},"y":{"datum":4.34,"axis":null},"text":{"value":"¹³CO(3−2)"}}}
]},
{"width":111.5,"height":99.5,"resolve":{"axis":{"x":"independent","y":"independent"}},"layer":[
 {"data":{"name":"C4"},"mark":{"type":"line","interpolate":"step","color":"#333","clip":true},"encoding":{"x":{"field":"v","type":"quantitative","scale":{"domain":[210,260],"nice":false,"zero":false},"axis":{"orient":"bottom","values":[210,220,230,240,250,260],"format":"~f","title":"Velocity (km/s)"}},"y":{"field":"t","type":"quantitative","scale":{"domain":[-0.17,0.446],"nice":false,"zero":false},"axis":{"orient":"left","values":[0,0.2,0.4],"format":"~f","title":null}}}},
 {"data":{"name":"C4f"},"mark":{"type":"line","interpolate":"monotone","color":"#b0b0b0","clip":true},"encoding":{"x":{"field":"v","type":"quantitative","axis":{"orient":"top","values":[210,220,230,240,250,260],"labels":false,"title":null}},"y":{"field":"t","type":"quantitative","axis":{"orient":"right","values":[0,0.2,0.4],"labels":false,"title":null}}}},
 {"data":{"name":"C4"},"mark":{"type":"line","opacity":0},"encoding":{"x":{"field":"v","type":"quantitative","axis":{"orient":"bottom","values":[212,214,216,218,222,224,226,228,232,234,236,238,242,244,246,248,252,254,256,258],"labels":false,"title":null,"tickSize":-2.5}},"y":{"field":"t","type":"quantitative","axis":{"orient":"left","values":[-0.15,-0.1,-0.05,0.05,0.1,0.15,0.25,0.3,0.35],"labels":false,"title":null,"tickSize":-2.5}}}},
 {"data":{"name":"C4"},"mark":{"type":"line","opacity":0},"encoding":{"x":{"field":"v","type":"quantitative","axis":{"orient":"top","values":[212,214,216,218,222,224,226,228,232,234,236,238,242,244,246,248,252,254,256,258],"labels":false,"title":null,"tickSize":-2.5}},"y":{"field":"t","type":"quantitative","axis":{"orient":"right","values":[-0.15,-0.1,-0.05,0.05,0.1,0.15,0.25,0.3,0.35],"labels":false,"title":null,"tickSize":-2.5}}}},
 {"data":{"name":"one"},"mark":{"type":"text","align":"left","baseline":"top","dx":5,"dy":3,"font":"Liberation Serif","fontSize":10},"encoding":{"x":{"datum":210,"axis":null},"y":{"datum":0.446,"axis":null},"text":{"value":"¹²CS(7−6)"}}}
]},
{"width":111.5,"height":99.5,"resolve":{"axis":{"x":"independent","y":"independent"}},"layer":[
 {"data":{"name":"D4"},"mark":{"type":"line","interpolate":"step","color":"#333","clip":true},"encoding":{"x":{"field":"v","type":"quantitative","scale":{"domain":[210,260],"nice":false,"zero":false},"axis":{"orient":"bottom","values":[210,220,230,240,250,260],"format":"~f","title":"Velocity (km/s)"}},"y":{"field":"t","type":"quantitative","scale":{"domain":[-0.0086,0.0241],"nice":false,"zero":false},"axis":{"orient":"left","values":[0,0.01,0.02],"format":"~f","title":null}}}},
 {"data":{"name":"D4f"},"mark":{"type":"line","interpolate":"monotone","color":"#b0b0b0","clip":true},"encoding":{"x":{"field":"v","type":"quantitative","axis":{"orient":"top","values":[210,220,230,240,250,260],"labels":false,"title":null}},"y":{"field":"t","type":"quantitative","axis":{"orient":"right","values":[0,0.01,0.02],"labels":false,"title":null}}}},
 {"data":{"name":"D4"},"mark":{"type":"line","opacity":0},"encoding":{"x":{"field":"v","type":"quantitative","axis":{"orient":"bottom","values":[212,214,216,218,222,224,226,228,232,234,236,238,242,244,246,248,252,254,256,258],"labels":false,"title":null,"tickSize":-2.5}},"y":{"field":"t","type":"quantitative","axis":{"orient":"left","values":[-0.008,-0.006,-0.004,-0.002,0.002,0.004,0.006,0.008,0.012,0.014,0.016,0.018,0.022,0.024],"labels":false,"title":null,"tickSize":-2.5}}}},
 {"data":{"name":"D4"},"mark":{"type":"line","opacity":0},"encoding":{"x":{"field":"v","type":"quantitative","axis":{"orient":"top","values":[212,214,216,218,222,224,226,228,232,234,236,238,242,244,246,248,252,254,256,258],"labels":false,"title":null,"tickSize":-2.5}},"y":{"field":"t","type":"quantitative","axis":{"orient":"right","values":[-0.008,-0.006,-0.004,-0.002,0.002,0.004,0.006,0.008,0.012,0.014,0.016,0.018,0.022,0.024],"labels":false,"title":null,"tickSize":-2.5}}}},
 {"data":{"name":"one"},"mark":{"type":"text","align":"left","baseline":"top","dx":5,"dy":3,"font":"Liberation Serif","fontSize":10},"encoding":{"x":{"datum":210,"axis":null},"y":{"datum":0.0241,"axis":null},"text":{"value":"C³³S(3−2)"}}}
]}
]
}
